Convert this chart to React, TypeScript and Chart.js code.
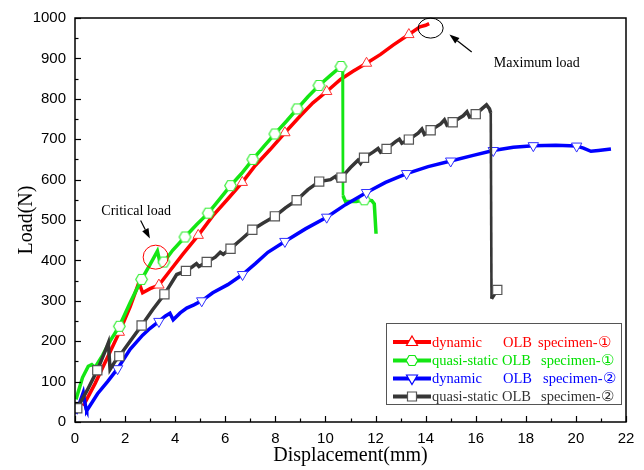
import React, { useEffect, useRef } from "react";
import { Chart, registerables } from "chart.js";

Chart.register(...registerables);

// ---------- data ----------
const xTickValues = [0, 2, 4, 6, 8, 10, 12, 14, 16, 18, 20, 22];
const yTickValues = [0, 100, 200, 300, 400, 500, 600, 700, 800, 900, 1000];

const dynamic1: [number, number][] = [
  [0.33, 40], [0.8, 95], [1.3, 160], [1.77, 222], [2.2, 285], [2.55, 345], [2.7, 320],
  [3.0, 330], [3.35, 339], [3.8, 375], [4.3, 415], [4.92, 462], [5.5, 510], [6.1, 552],
  [6.68, 593], [7.2, 635], [7.8, 675], [8.38, 716], [9.0, 758], [9.5, 790], [10.05, 818],
  [10.6, 848], [11.1, 868], [11.64, 888], [12.2, 910], [12.7, 933], [13.33, 959],
  [13.77, 978], [14.0, 982], [14.14, 986],
];
const dynamic1Markers = [1.77, 3.35, 4.92, 6.68, 8.38, 10.05, 11.64, 13.33];

const quasi1: [number, number][] = [
  [0.04, 56], [0.3, 110], [0.53, 138], [0.67, 142], [0.8, 135], [1.1, 165], [1.4, 200],
  [1.77, 237], [2.2, 295], [2.66, 353], [3.0, 390], [3.29, 423], [3.39, 396], [3.55, 396],
  [3.9, 425], [4.39, 458], [4.85, 488], [5.32, 517], [5.75, 550], [6.21, 585], [6.65, 615],
  [7.1, 650], [7.55, 683], [7.98, 713], [8.45, 745], [8.87, 775], [9.3, 805], [9.74, 833],
  [10.2, 858], [10.62, 880], [10.68, 870], [10.7, 560], [10.8, 546], [11.24, 546],
  [11.55, 550], [11.85, 548], [11.95, 540], [12.02, 466],
];
const quasi1Markers = [1.77, 2.66, 3.55, 4.39, 5.32, 6.21, 7.1, 7.98, 8.87, 9.74, 10.62, 11.55];

const dynamic2: [number, number][] = [
  [0.04, 20], [0.2, 50], [0.33, 73], [0.44, 32], [0.47, 28], [0.9, 70], [1.3, 100],
  [1.7, 132], [2.2, 180], [2.7, 215], [3.0, 232], [3.35, 249], [3.6, 262], [3.79, 269],
  [3.92, 253], [4.2, 270], [4.46, 282], [4.75, 290], [5.06, 300], [5.5, 320], [6.1, 340],
  [6.69, 365], [7.2, 392], [7.7, 420], [8.38, 447], [9.2, 478], [10.05, 507], [10.8, 538],
  [11.64, 568], [12.4, 593], [13.24, 615], [14.1, 632], [15.0, 646], [15.9, 660],
  [16.7, 672], [17.5, 680], [18.3, 684], [19.2, 685], [20.03, 683], [20.3, 678],
  [20.6, 670], [20.9, 672], [21.4, 676],
];
const dynamic2Markers = [1.7, 3.35, 5.06, 6.69, 8.38, 10.05, 11.64, 13.24, 15.0, 16.7, 18.3, 20.03];

const quasi2: [number, number][] = [
  [0.09, 34], [0.5, 80], [0.89, 128], [1.2, 175], [1.33, 196], [1.4, 130], [1.6, 150],
  [1.77, 163], [2.2, 200], [2.66, 239], [3.1, 278], [3.57, 316], [4.06, 365], [4.43, 374],
  [4.7, 385], [4.85, 392], [4.95, 385], [5.26, 396], [5.6, 408], [5.8, 420], [5.92, 415],
  [6.21, 429], [6.6, 450], [7.08, 476], [7.5, 492], [7.98, 509], [8.4, 530], [8.85, 549],
  [9.3, 575], [9.75, 595], [10.2, 600], [10.4, 608], [10.5, 598], [10.64, 605],
  [11.0, 630], [11.3, 648], [11.4, 640], [11.54, 654], [11.9, 668], [12.1, 677],
  [12.2, 668], [12.44, 676], [12.8, 694], [12.95, 700], [13.05, 690], [13.33, 699],
  [13.7, 715], [13.85, 725], [13.95, 712], [14.2, 722], [14.6, 738], [14.75, 748],
  [14.85, 735], [15.08, 742], [15.5, 758], [15.65, 768], [15.75, 755], [16.0, 762],
  [16.3, 778], [16.43, 785], [16.55, 775], [16.6, 765], [16.63, 305], [16.86, 327],
];
const quasi2Markers = [0.09, 0.89, 1.77, 2.66, 3.57, 4.43, 5.26, 6.21, 7.08, 7.98, 8.85, 9.75,
  10.64, 11.54, 12.44, 13.33, 14.2, 15.08, 16.0, 16.86];

const legendType = ["dynamic", "quasi-static", "dynamic", "quasi-static"];
const legendOLB = ["OLB", "OLB", "OLB", "OLB"];
const legendSpecimen = ["specimen-①", "specimen-①", "specimen-②", "specimen-②"];

const criticalLabel = "Critical load";
const maximumLabel = "Maximum load";
const criticalCircle = { x: 3.22, y: 408 };
const criticalArrow = { x0: 2.62, y0: 499, x1: 2.99, y1: 454 };
const criticalText = { x: 2.44, y: 522 };
const maximumCircle = { x: 14.2, y: 975 };
const maximumArrow = { x0: 15.84, y0: 916, x1: 14.95, y1: 959 };
const maximumText = { x: 18.44, y: 888 };

// ---------- styles ----------
const RED = "#ff0000";
const GREEN = "#14e614";
const BLUE = "#0000ff";
const BLACK = "#363636";
const SERIF = "'Liberation Serif', 'Times New Roman', serif";
const SANS = "'Liberation Sans', Arial, sans-serif";

function makeHex(color: string): HTMLCanvasElement {
  const c = document.createElement("canvas");
  c.width = 15;
  c.height = 15;
  const g = c.getContext("2d")!;
  g.beginPath();
  for (let i = 0; i < 6; i++) {
    const a = (i * Math.PI) / 3;
    const px = 7.5 + 5.8 * Math.cos(a);
    const py = 7.5 + 5.8 * Math.sin(a);
    if (i === 0) g.moveTo(px, py);
    else g.lineTo(px, py);
  }
  g.closePath();
  g.fillStyle = "#ffffff";
  g.fill();
  g.lineWidth = 1.2;
  g.strokeStyle = color;
  g.stroke();
  return c;
}

function toPts(arr: [number, number][]) {
  return arr.map(([x, y]) => ({ x, y }));
}

function markerRadius(markers: number[], r: number) {
  return (ctx: any) => {
    const raw = ctx.raw;
    if (!raw) return 0;
    return markers.includes(raw.x) ? r : 0;
  };
}

const dropWidth = (normal: number) => (ctx: any) => {
  const dx = Math.abs(ctx.p1.parsed.x - ctx.p0.parsed.x);
  const dy = Math.abs(ctx.p1.parsed.y - ctx.p0.parsed.y);
  return dx < 0.1 && dy > 100 ? 2.6 : normal;
};

function drawArrow(ctx: CanvasRenderingContext2D, x0: number, y0: number, x1: number, y1: number) {
  const ang = Math.atan2(y1 - y0, x1 - x0);
  const head = 10;
  const hw = 3.5;
  const bx = x1 - head * Math.cos(ang);
  const by = y1 - head * Math.sin(ang);
  ctx.beginPath();
  ctx.moveTo(x0, y0);
  ctx.lineTo(bx, by);
  ctx.lineWidth = 1.2;
  ctx.strokeStyle = "#000";
  ctx.stroke();
  ctx.beginPath();
  ctx.moveTo(x1, y1);
  ctx.lineTo(bx + hw * Math.sin(ang), by - hw * Math.cos(ang));
  ctx.lineTo(bx - hw * Math.sin(ang), by + hw * Math.cos(ang));
  ctx.closePath();
  ctx.fillStyle = "#000";
  ctx.fill();
}

const framePlugin = {
  id: "frameAndExtras",
  afterDraw(chart: any) {
    const { ctx, chartArea: a, scales } = chart;
    const xs = scales.x;
    const ys = scales.y;
    ctx.save();
    // frame
    ctx.strokeStyle = "#000";
    ctx.lineWidth = 1.5;
    ctx.strokeRect(a.left, a.top, a.right - a.left, a.bottom - a.top);
    // inward ticks
    ctx.lineWidth = 1.2;
    for (let v = 0; v <= 22; v += 1) {
      const px = Math.round(xs.getPixelForValue(v)) + 0.5;
      const len = v % 2 === 0 ? 6 : 3.5;
      ctx.beginPath();
      ctx.moveTo(px, a.bottom);
      ctx.lineTo(px, a.bottom - len);
      ctx.stroke();
    }
    for (let v = 0; v <= 1000; v += 50) {
      const py = Math.round(ys.getPixelForValue(v)) + 0.5;
      const len = v % 100 === 0 ? 6 : 3.5;
      ctx.beginPath();
      ctx.moveTo(a.left, py);
      ctx.lineTo(a.left + len, py);
      ctx.stroke();
    }

    // annotations
    ctx.lineWidth = 1;
    ctx.strokeStyle = RED;
    ctx.beginPath();
    ctx.ellipse(xs.getPixelForValue(criticalCircle.x), ys.getPixelForValue(criticalCircle.y), 12.5, 12, 0, 0, Math.PI * 2);
    ctx.stroke();
    ctx.strokeStyle = "#000";
    ctx.beginPath();
    ctx.ellipse(xs.getPixelForValue(maximumCircle.x), ys.getPixelForValue(maximumCircle.y), 12.5, 10, 0, 0, Math.PI * 2);
    ctx.stroke();
    drawArrow(ctx, xs.getPixelForValue(criticalArrow.x0), ys.getPixelForValue(criticalArrow.y0),
      xs.getPixelForValue(criticalArrow.x1), ys.getPixelForValue(criticalArrow.y1));
    drawArrow(ctx, xs.getPixelForValue(maximumArrow.x0), ys.getPixelForValue(maximumArrow.y0),
      xs.getPixelForValue(maximumArrow.x1), ys.getPixelForValue(maximumArrow.y1));
    ctx.fillStyle = "#000";
    ctx.font = `14px ${SERIF}`;
    ctx.textAlign = "center";
    ctx.textBaseline = "middle";
    ctx.fillText(criticalLabel, xs.getPixelForValue(criticalText.x), ys.getPixelForValue(criticalText.y));
    ctx.fillText(maximumLabel, xs.getPixelForValue(maximumText.x), ys.getPixelForValue(maximumText.y));

    // legend
    const bx = 386, by = 323, bw = 235, bh = 81;
    ctx.fillStyle = "#fff";
    ctx.fillRect(bx, by, bw, bh);
    ctx.strokeStyle = "#555";
    ctx.lineWidth = 1;
    ctx.strokeRect(bx + 0.5, by + 0.5, bw, bh);
    const rows = [342, 360.5, 378.5, 396.5];
    const lineColors = [RED, GREEN, BLUE, BLACK];
    const textColors = [RED, "#00e000", BLUE, "#333333"];
    const olbX = [503, 502, 503, 502];
    const specX = [538, 541, 543, 541];
    chart.data.datasets.forEach((ds: any, i: number) => {
      const y = rows[i];
      ctx.strokeStyle = lineColors[i];
      ctx.lineWidth = 4;
      ctx.beginPath();
      ctx.moveTo(393, y);
      ctx.lineTo(431, y);
      ctx.stroke();
      const cx = 412;
      ctx.lineWidth = 1.2;
      ctx.fillStyle = "#fff";
      ctx.strokeStyle = i === 3 ? "#555" : lineColors[i];
      ctx.beginPath();
      if (i === 0) {
        ctx.moveTo(cx, y - 6); ctx.lineTo(cx + 5.5, y + 3.5); ctx.lineTo(cx - 5.5, y + 3.5); ctx.closePath();
      } else if (i === 2) {
        ctx.moveTo(cx, y + 6); ctx.lineTo(cx + 5.5, y - 3.5); ctx.lineTo(cx - 5.5, y - 3.5); ctx.closePath();
      } else if (i === 1) {
        for (let k = 0; k < 6; k++) {
          const ang = (k * Math.PI) / 3;
          const px = cx + 5.8 * Math.cos(ang), py = y + 5.8 * Math.sin(ang);
          if (k === 0) ctx.moveTo(px, py); else ctx.lineTo(px, py);
        }
        ctx.closePath();
      } else {
        ctx.rect(cx - 4.5, y - 4.5, 9, 9);
      }
      ctx.fill();
      ctx.stroke();
      ctx.fillStyle = textColors[i];
      ctx.font = `14.5px ${SERIF}`;
      ctx.textAlign = "left";
      ctx.textBaseline = "middle";
      ctx.fillText(legendType[i], 432, y + 1);
      ctx.fillText(legendOLB[i], olbX[i], y + 1);
      ctx.fillText(legendSpecimen[i], specX[i], y + 1);
    });
    ctx.restore();
  },
};

export default function App() {
  const ref = useRef<HTMLCanvasElement | null>(null);
  useEffect(() => {
    if (!ref.current) return;
    const hexGreen = makeHex("#33ee33");
    const chart = new Chart(ref.current, {
      type: "line",
      data: {
        datasets: [
          {
            label: "dynamic OLB specimen-①",
            data: toPts(dynamic1),
            borderColor: RED,
            borderWidth: 3.5,
            pointStyle: "triangle",
            pointRadius: markerRadius(dynamic1Markers, 6),
            pointBackgroundColor: "#fff",
            pointBorderColor: "#ff3030",
            pointBorderWidth: 1,
            order: 4,
            segment: { borderWidth: dropWidth(3.5) },
          },
          {
            label: "quasi-static OLB specimen-①",
            data: toPts(quasi1),
            borderColor: GREEN,
            borderWidth: 3.5,
            pointStyle: hexGreen,
            pointRadius: markerRadius(quasi1Markers, 6),
            order: 3,
            segment: { borderWidth: dropWidth(3.5) },
          },
          {
            label: "dynamic OLB specimen-②",
            data: toPts(dynamic2),
            borderColor: BLUE,
            borderWidth: 3.5,
            pointStyle: "triangle",
            pointRotation: 180,
            pointRadius: markerRadius(dynamic2Markers, 6),
            pointBackgroundColor: "#fff",
            pointBorderColor: "#3030ff",
            pointBorderWidth: 1,
            order: 2,
            segment: { borderWidth: dropWidth(3.5) },
          },
          {
            label: "quasi-static OLB specimen-②",
            data: toPts(quasi2),
            borderColor: BLACK,
            borderWidth: 3.5,
            pointStyle: "rect",
            pointRadius: markerRadius(quasi2Markers, 6.5),
            pointBackgroundColor: "#fff",
            pointBorderColor: "#555",
            pointBorderWidth: 1.2,
            order: 1,
            segment: { borderWidth: dropWidth(3.5) },
          },
        ],
      },
      options: {
        animation: false,
        responsive: false,
        maintainAspectRatio: false,
        layout: { padding: { left: 0, top: 16, right: 18, bottom: 0 } },
        plugins: { legend: { display: false }, tooltip: { enabled: false } },
        elements: { line: { tension: 0 } },
        scales: {
          x: {
            type: "linear",
            min: 0,
            max: 22,
            afterBuildTicks: (s: any) => {
              s.ticks = xTickValues.map((v) => ({ value: v }));
            },
            ticks: {
              font: { family: SANS, size: 15 },
              color: "#000",
              padding: 8,
              maxRotation: 0,
              callback: (v: any) => String(v),
            },
            grid: { display: false, drawTicks: false },
            border: { display: false },
            title: {
              display: true,
              text: "Displacement(mm)",
              font: { family: SERIF, size: 20 },
              color: "#000",
              padding: { top: 0, bottom: 2 },
            },
            afterFit: (s: any) => {
              s.height = 48;
            },
          },
          y: {
            type: "linear",
            min: 0,
            max: 1000,
            afterBuildTicks: (s: any) => {
              s.ticks = yTickValues.map((v) => ({ value: v }));
            },
            ticks: {
              font: { family: SANS, size: 15 },
              color: "#000",
              padding: 9,
              callback: (v: any) => String(v),
            },
            grid: { display: false, drawTicks: false },
            border: { display: false },
            title: {
              display: true,
              text: "Load(N)",
              font: { family: SERIF, size: 20 },
              color: "#000",
              padding: { top: 15, bottom: 0 },
            },
            afterFit: (s: any) => {
              s.width = 75;
            },
          },
        },
      },
      plugins: [framePlugin],
    });
    return () => chart.destroy();
  }, []);
  return (
    <div style={{ position: "absolute", left: 0, top: 0, width: 644, height: 470, background: "#fff" }}>
      <canvas ref={ref} width={644} height={470} />
    </div>
  );
}
